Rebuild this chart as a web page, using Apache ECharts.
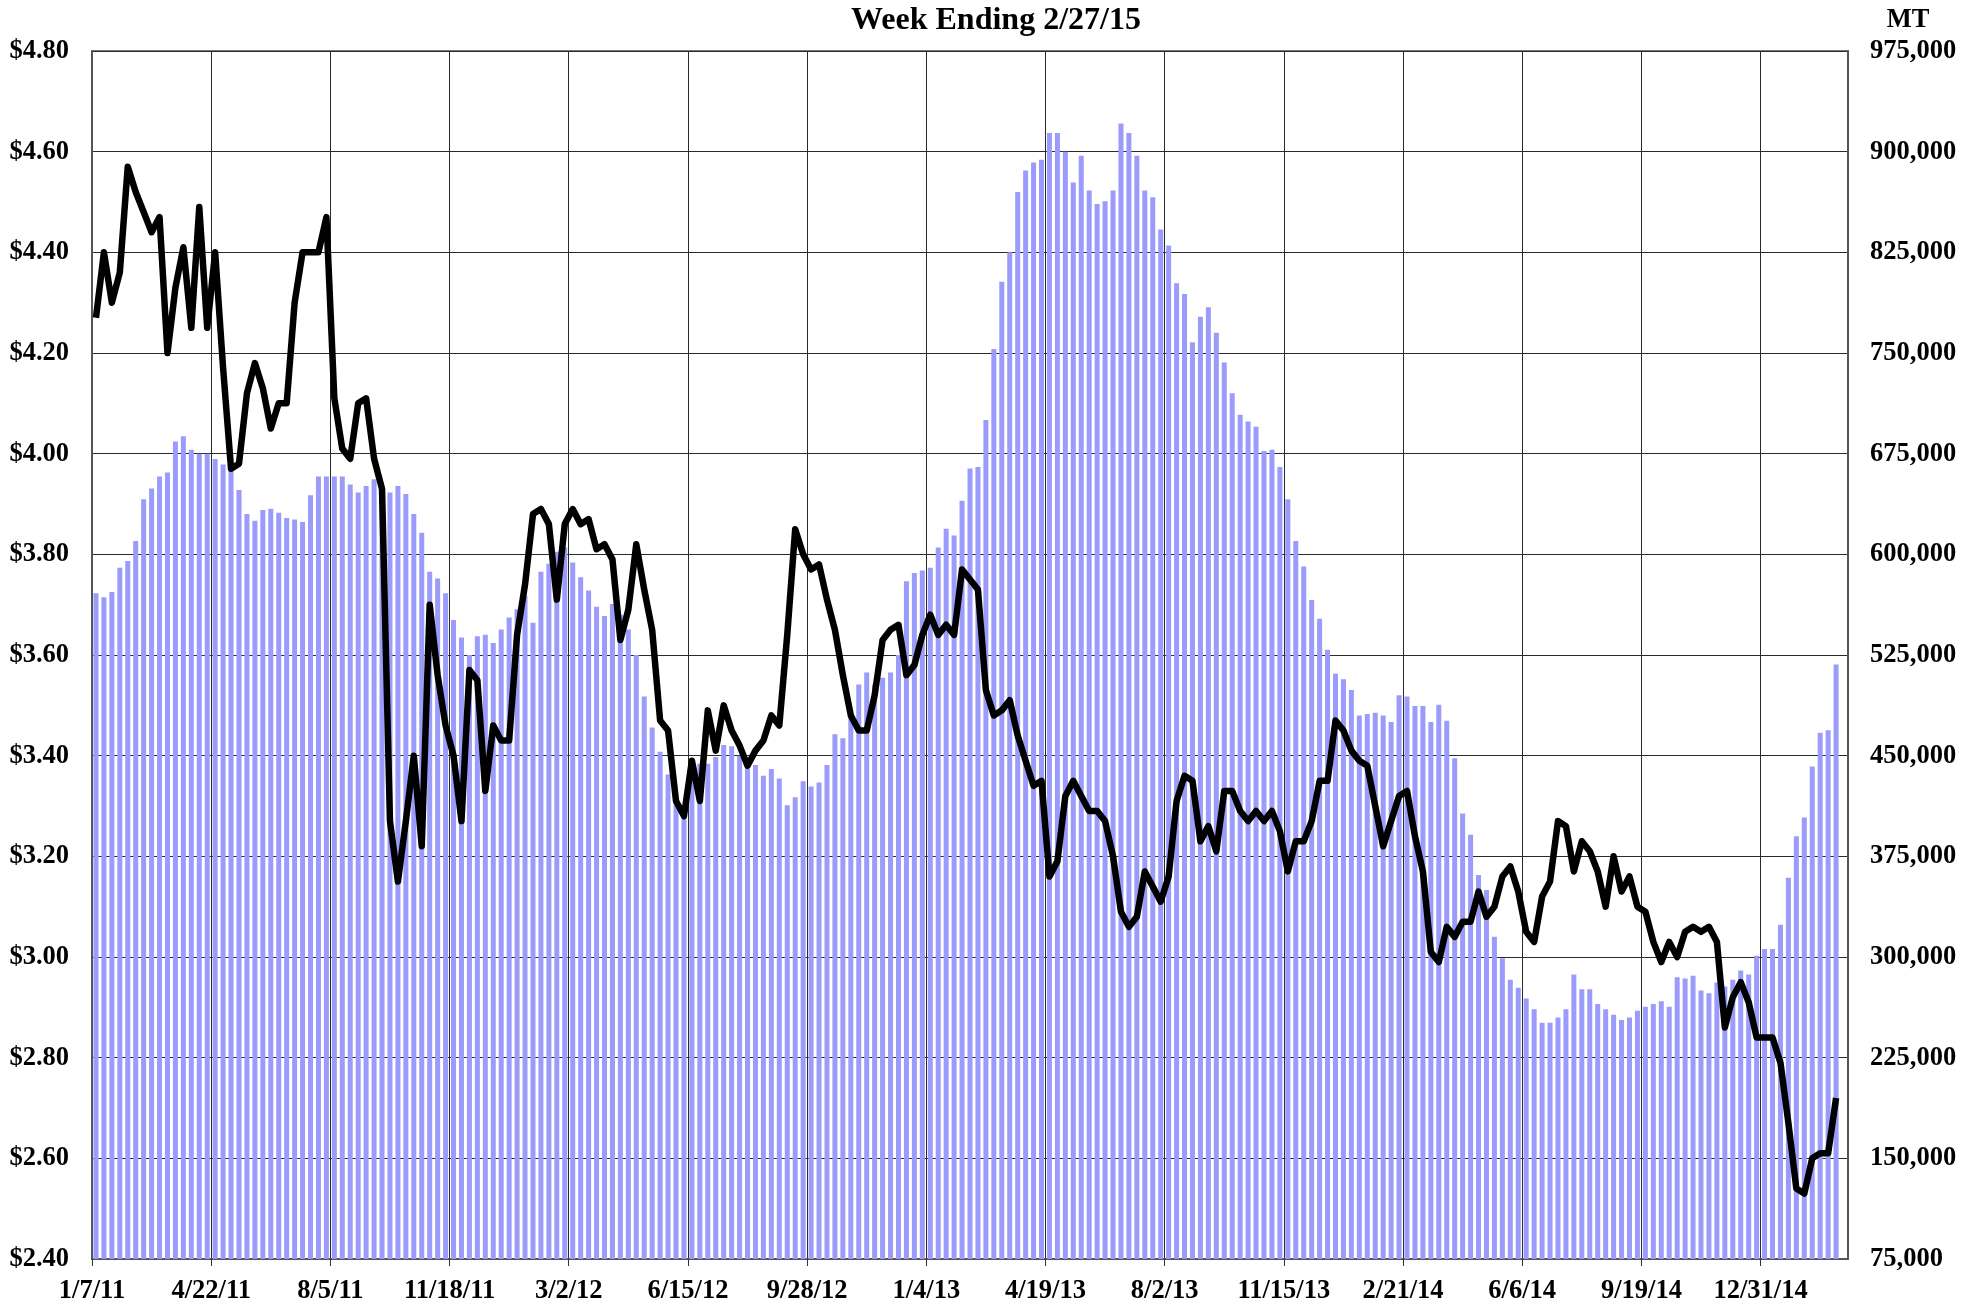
<!DOCTYPE html>
<html>
<head>
<meta charset="utf-8">
<script src="https://cdn.jsdelivr.net/npm/echarts@6/dist/echarts.min.js"></script>
<style>
html,body{margin:0;padding:0;background:#fff;}
#chart{width:1982px;height:1307px;}
</style>
</head>
<body>
<div id="chart"></div>
<script>
var tickLabels = ['1/7/11','4/22/11','8/5/11','11/18/11','3/2/12','6/15/12','9/28/12','1/4/13','4/19/13','8/2/13','11/15/13','2/21/14','6/6/14','9/19/14','12/31/14'];
var weeksPerTick = 15;
var totalWeeks = 221;

// MT (thousands)
var volumeK = [
571,568,572,590,595,610,641,649,658,661,
684,688,678,675,675,671,667,663,648,630,
625,633,634,631,627,626,624,644,658,658,
658,658,652,646,651,656,647,646,651,645,
630,616,587,582,571,551,538,525,539,540,
534,544,553,559,569,549,587,593,602,605,
594,583,573,561,554,563,555,544,525,494,
471,453,436,415,410,444,444,444,449,458,
457,450,440,443,435,440,433,413,419,431,
427,430,443,466,463,482,503,512,503,508,
512,525,580,586,588,590,605,619,614,640,
664,665,700,753,803,825,870,886,892,894,
914,914,900,877,897,871,861,863,871,921,
914,897,871,866,842,830,802,794,758,777,
784,765,743,720,704,699,695,677,678,665,
641,610,591,566,552,529,511,507,499,480,
481,482,480,475,495,494,487,487,475,488,
476,448,407,391,361,350,315,299,283,277,
269,261,251,251,255,261,287,276,276,265,
261,257,253,255,260,263,265,267,263,285,
284,286,275,273,281,278,283,290,287,301,
306,306,324,359,390,404,442,467,469,518
];

// $ per lb
var price = [
4.27,4.40,4.30,4.36,4.57,4.52,4.48,4.44,4.47,4.20,
4.33,4.41,4.25,4.49,4.25,4.40,4.17,3.97,3.98,4.12,
4.18,4.13,4.05,4.10,4.10,4.30,4.40,4.40,4.40,4.47,
4.11,4.01,3.99,4.10,4.11,3.99,3.93,3.27,3.15,3.27,
3.40,3.22,3.70,3.56,3.46,3.40,3.27,3.57,3.55,3.33,
3.46,3.43,3.43,3.64,3.74,3.88,3.89,3.86,3.71,3.86,
3.89,3.86,3.87,3.81,3.82,3.79,3.63,3.69,3.82,3.73,
3.65,3.47,3.45,3.31,3.28,3.39,3.31,3.49,3.41,3.50,
3.45,3.42,3.38,3.41,3.43,3.48,3.46,3.64,3.85,3.80,
3.77,3.78,3.71,3.65,3.56,3.48,3.45,3.45,3.52,3.63,
3.65,3.66,3.56,3.58,3.64,3.68,3.64,3.66,3.64,3.77,
3.75,3.73,3.53,3.48,3.49,3.51,3.44,3.39,3.34,3.35,
3.16,3.19,3.32,3.35,3.32,3.29,3.29,3.27,3.20,3.09,
3.06,3.08,3.17,3.14,3.11,3.16,3.31,3.36,3.35,3.23,
3.26,3.21,3.33,3.33,3.29,3.27,3.29,3.27,3.29,3.25,
3.17,3.23,3.23,3.27,3.35,3.35,3.47,3.45,3.41,3.39,
3.38,3.30,3.22,3.27,3.32,3.33,3.24,3.17,3.01,2.99,
3.06,3.04,3.07,3.07,3.13,3.08,3.10,3.16,3.18,3.13,
3.05,3.03,3.12,3.15,3.27,3.26,3.17,3.23,3.21,3.17,
3.10,3.20,3.13,3.16,3.10,3.09,3.03,2.99,3.03,3.00,
3.05,3.06,3.05,3.06,3.03,2.86,2.92,2.95,2.91,2.84,
2.84,2.84,2.79,2.67,2.54,2.53,2.60,2.61,2.61,2.72
];

var barData = volumeK.map(function(v, i){ return [i + 0.5, v * 1000]; });
var lineData = price.map(function(p, i){ return [i + 0.5, p]; });

var FONT = "'Liberation Serif','Times New Roman',serif";
var labelStyle = {fontFamily: FONT, fontWeight: 'bold', fontSize: 26.5, color: '#000'};

var chart = echarts.init(document.getElementById('chart'), null, {renderer: 'canvas'});
chart.setOption({
  animation: false,
  backgroundColor: '#fff',
  grid: {left: 92, right: 134, top: 51, bottom: 48, containLabel: false,
         show: true, borderColor: '#777', borderWidth: 2, backgroundColor: 'transparent'},
  graphic: [
    {type: 'text', x: 996, y: 5, style: {text: 'Week Ending 2/27/15', font: 'bold 32px ' + FONT, fill: '#000', align: 'center'}},
    {type: 'text', x: 1908, y: 7, style: {text: 'MT', font: 'bold 26.5px ' + FONT, fill: '#000', align: 'center'}}
  ],
  xAxis: {
    type: 'value', min: 0, max: totalWeeks, interval: weeksPerTick,
    axisLine: {show: true, lineStyle: {color: '#555', width: 2}},
    axisTick: {show: true, length: 7, lineStyle: {color: '#333', width: 1}},
    splitLine: {show: true, lineStyle: {color: '#2a2a2a', width: 1}},
    axisLabel: Object.assign({margin: 19, showMaxLabel: false,
      formatter: function(v){ var k = Math.round(v / weeksPerTick); return (v % weeksPerTick === 0 && tickLabels[k]) ? tickLabels[k] : ''; }}, labelStyle)
  },
  yAxis: [
    {
      type: 'value', position: 'left', min: 2.4, max: 4.8, interval: 0.2,
      axisLine: {show: true, lineStyle: {color: '#555', width: 2}},
      axisTick: {show: false},
      splitLine: {show: true, lineStyle: {color: '#2a2a2a', width: 1}},
      axisLabel: Object.assign({margin: 23, formatter: function(v){ return '$' + v.toFixed(2); }}, labelStyle)
    },
    {
      type: 'value', position: 'right', min: 75000, max: 975000, interval: 75000,
      axisLine: {show: true, lineStyle: {color: '#555', width: 2}},
      axisTick: {show: false},
      splitLine: {show: false},
      axisLabel: Object.assign({margin: 22, formatter: function(v){ return v.toLocaleString('en-US'); }}, labelStyle)
    }
  ],
  series: [
    {type: 'bar', yAxisIndex: 1, data: barData, barWidth: 5, itemStyle: {color: '#9b9bfb'}, z: 2},
    {type: 'line', yAxisIndex: 0, data: lineData, symbol: 'none', z: 3,
     lineStyle: {color: '#000', width: 6.5, join: 'round'}}
  ]
});
</script>
</body>
</html>
